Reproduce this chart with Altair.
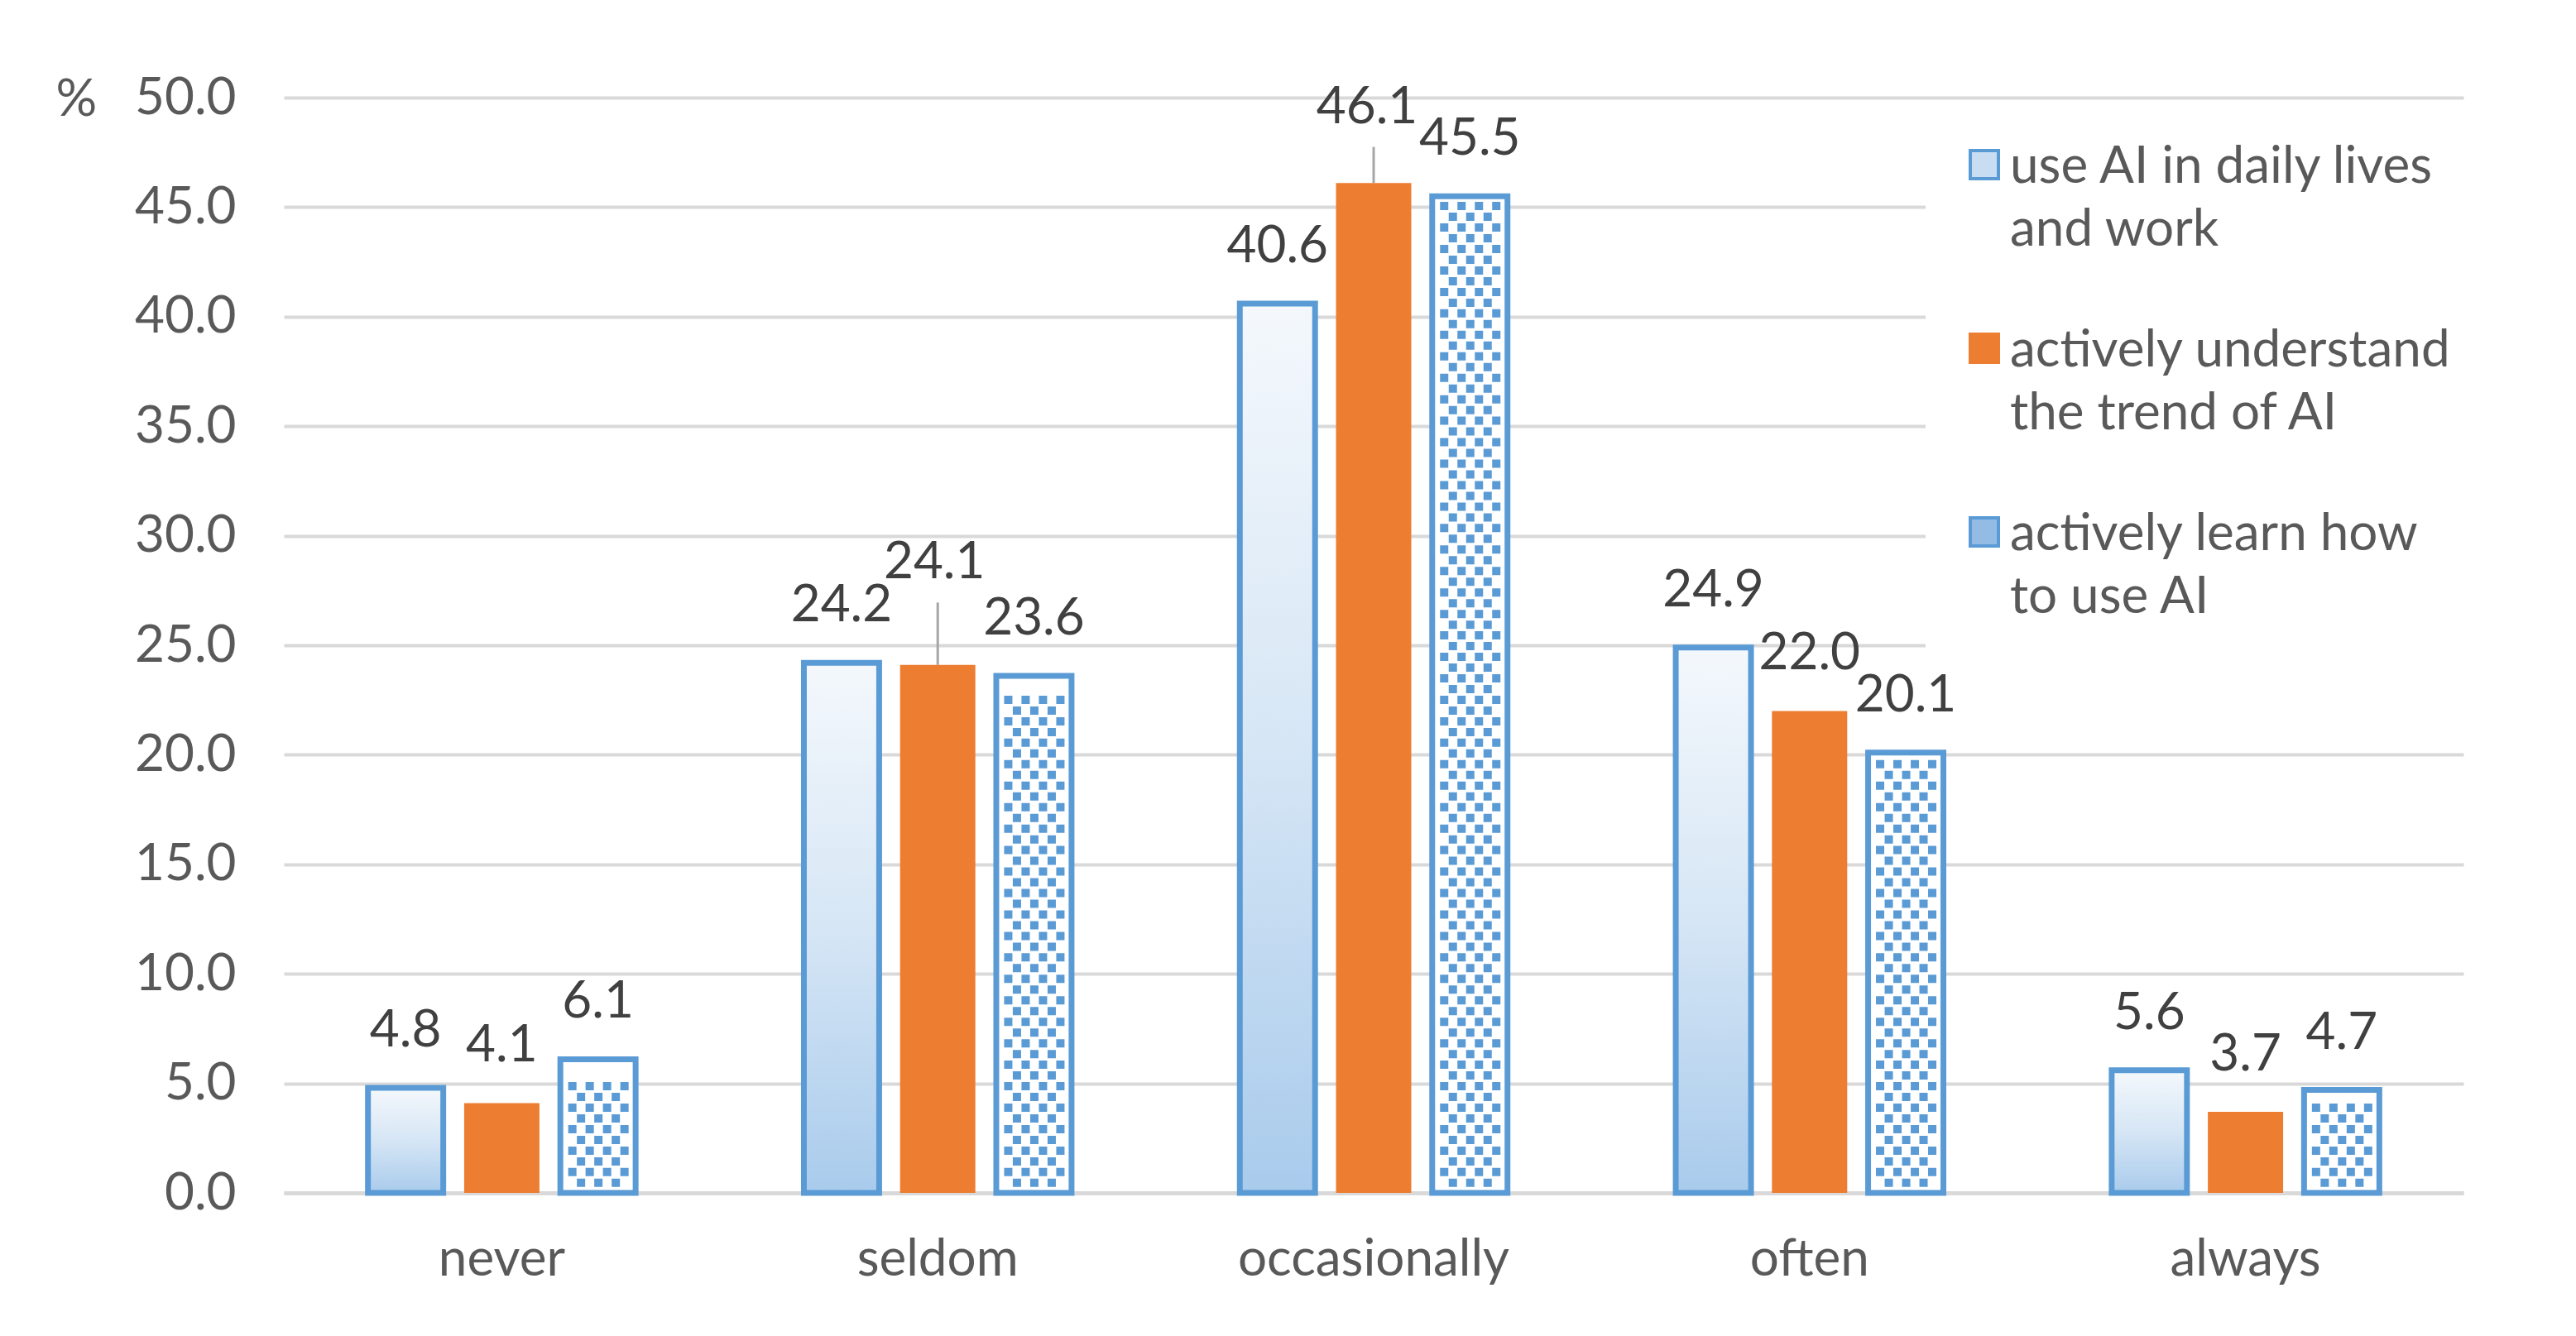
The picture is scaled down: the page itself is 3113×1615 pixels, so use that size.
import altair as alt
import pandas as pd

CATEGORIES = ["never", "seldom", "occasionally", "often", "always"]
SERIES = [
    "use AI in daily lives and work",
    "actively understand the trend of AI",
    "actively learn how to use AI",
]
LEGEND_LINES = [
    ["use AI in daily lives", "and work"],
    ["actively understand", "the trend of AI"],
    ["actively learn how", "to use AI"],
]
USE_DAILY = [4.8, 24.2, 40.6, 24.9, 5.6]
UNDERSTAND_TREND = [4.1, 24.1, 46.1, 22.0, 3.7]
LEARN_HOW = [6.1, 23.6, 45.5, 20.1, 4.7]
Y_TICKS = [0, 5, 10, 15, 20, 25, 30, 35, 40, 45, 50]

rows = []
for s, vals in zip(SERIES, [USE_DAILY, UNDERSTAND_TREND, LEARN_HOW]):
    for c, v in zip(CATEGORIES, vals):
        rows.append({"cat": c, "series": s, "value": v})
df = pd.DataFrame(rows)

FONT = "Lato"
TXT = "#595959"
LBL = "#404040"
BLUE = "#5B9BD5"
ORANGE = "#ED7D31"

xscale = alt.Scale(domain=CATEGORIES, paddingInner=0.386, paddingOuter=0.193)
xenc = alt.X("cat:N", sort=CATEGORIES, scale=xscale,
             axis=alt.Axis(title=None, labelFontSize=62, labelFont=FONT, labelColor=TXT,
                           labelPadding=50, labelLimit=1000, ticks=False, domain=True,
                           domainColor="#D9D9D9", domainWidth=5, labelAngle=0, grid=False))
xenc2 = alt.X("cat:N", sort=CATEGORIES, scale=xscale)
xoff = alt.XOffset("series:N", scale=alt.Scale(domain=SERIES, paddingInner=0.2175, paddingOuter=0))
yscale = alt.Scale(domain=[0, 50], nice=False, zero=True)
yenc = alt.Y("value:Q", scale=yscale,
             axis=alt.Axis(values=Y_TICKS, format=".1f", title="%", titleAngle=0,
                           titleX=-276, titleY=2, titleAlign="left", titleBaseline="middle",
                           titleFontSize=62, titleFont=FONT, titleFontWeight="normal",
                           titleColor=TXT, labelFontSize=62, labelFont=FONT, labelColor=TXT,
                           labelPadding=58, domain=False, ticks=False, grid=True,
                           gridColor="#D9D9D9", gridWidth=4))
yenc2 = alt.Y("value:Q", scale=yscale)

label_expr = " : ".join(
    f"datum.label == '{s}' ? ['{a}', '{b}']" for s, (a, b) in zip(SERIES, LEGEND_LINES)
) + " : datum.label"

legend = alt.Legend(
    title=None, orient="none", legendX=1984, legendY=32, fillColor="white", padding=40,
    symbolType="M-1,-2.3H1V-0.3H-1Z", symbolSize=1156, symbolStrokeWidth=4,
    labelFontSize=62, labelFont=FONT, labelColor=TXT, labelLimit=1200, labelOffset=0,
    labelBaseline="alphabetic", labelExpr=label_expr, rowPadding=84,
)

base = alt.Chart(df).mark_bar().encode(
    x=xenc, xOffset=xoff, y=yenc,
    color=alt.Color("series:N", sort=SERIES,
                    scale=alt.Scale(domain=SERIES, range=["#C9DDF2", ORANGE, "#93BBE4"]),
                    legend=legend),
    stroke=alt.Stroke("series:N", sort=SERIES,
                      scale=alt.Scale(domain=SERIES, range=[BLUE, ORANGE, BLUE]),
                      legend=legend),
    strokeWidth=alt.value(0),
)

grad = alt.LinearGradient(
    gradient="linear",
    stops=[alt.GradientStop(color="#F4F8FC", offset=0),
           alt.GradientStop(color="#D6E6F5", offset=0.5),
           alt.GradientStop(color="#A9CBEC", offset=1)],
    x1=0, x2=0, y1=0, y2=1,
)

s1 = alt.Chart(df).transform_filter(f"datum.series == '{SERIES[0]}'").mark_bar(
    fill=grad, stroke=BLUE, strokeWidth=7).encode(x=xenc2, xOffset=xoff, y=yenc2)

s3 = alt.Chart(df).transform_filter(f"datum.series == '{SERIES[2]}'").mark_bar(
    fill="white", stroke=BLUE, strokeWidth=7).encode(x=xenc2, xOffset=xoff, y=yenc2)

# dotted texture: one period of the pattern as a custom symbol (size=4 -> 1 unit = 1 px)
DOT_ROW = ("M-36,-5h10v10h-10z M-15,-5h10v10h-10z M6,-5h10v10h-10z M27,-5h10v10h-10z "
           "M-25.5,8h10v10h-10z M-4.5,8h10v10h-10z M16.5,8h10v10h-10z")
dots = (
    alt.Chart(df).transform_filter(f"datum.series == '{SERIES[2]}'")
    .transform_calculate(dot="sequence(0.95, datum.value - 0.3, 0.98)")
    .transform_flatten(["dot"])
    .mark_point(shape=DOT_ROW, size=4, filled=True, fill=BLUE, strokeWidth=0, opacity=1)
    .encode(x=xenc2, xOffset=xoff, y=alt.Y("dot:Q", scale=yscale))
)

# data labels (two labels were moved up with leader lines in the original)
SPECIAL = [("seldom", SERIES[1], -105, -4, 2.85), ("occasionally", SERIES[1], -72, -8, 1.65)]
special_filter = " || ".join(
    f"(datum.cat == '{c}' && datum.series == '{s}')" for c, s, _, _, _ in SPECIAL)

labels = alt.Chart(df).transform_filter(f"!({special_filter})").mark_text(
    baseline="alphabetic", dy=-50, fontSize=62, font=FONT, color=LBL).encode(
    x=xenc2, xOffset=xoff, y=yenc2, text=alt.Text("value:Q", format=".1f"))

special_layers = []
for c, s, dy, dx, lead in SPECIAL:
    flt = f"datum.cat == '{c}' && datum.series == '{s}'"
    special_layers.append(
        alt.Chart(df).transform_filter(flt).transform_calculate(top=f"datum.value + {lead}")
        .mark_rule(color="#A6A6A6", strokeWidth=3)
        .encode(x=xenc2, xOffset=xoff, y=yenc2, y2="top:Q")
    )
    special_layers.append(
        alt.Chart(df).transform_filter(flt)
        .mark_text(baseline="alphabetic", dy=dy, dx=dx, fontSize=62, font=FONT, color=LBL)
        .encode(x=xenc2, xOffset=xoff, y=yenc2, text=alt.Text("value:Q", format=".1f"))
    )

chart = alt.layer(base, s1, s3, dots, labels, *special_layers).properties(
    width=2634, height=1324,
    autosize=alt.AutoSizeParams(type="none"),
    padding={"left": 335, "top": 110, "right": 120, "bottom": 160},
    background="white",
).configure(
    style={"guide-label": {"lineHeight": 76}},
).configure_view(stroke=None)

chart.save("out.html", embed_options={"renderer": "svg", "actions": False})
